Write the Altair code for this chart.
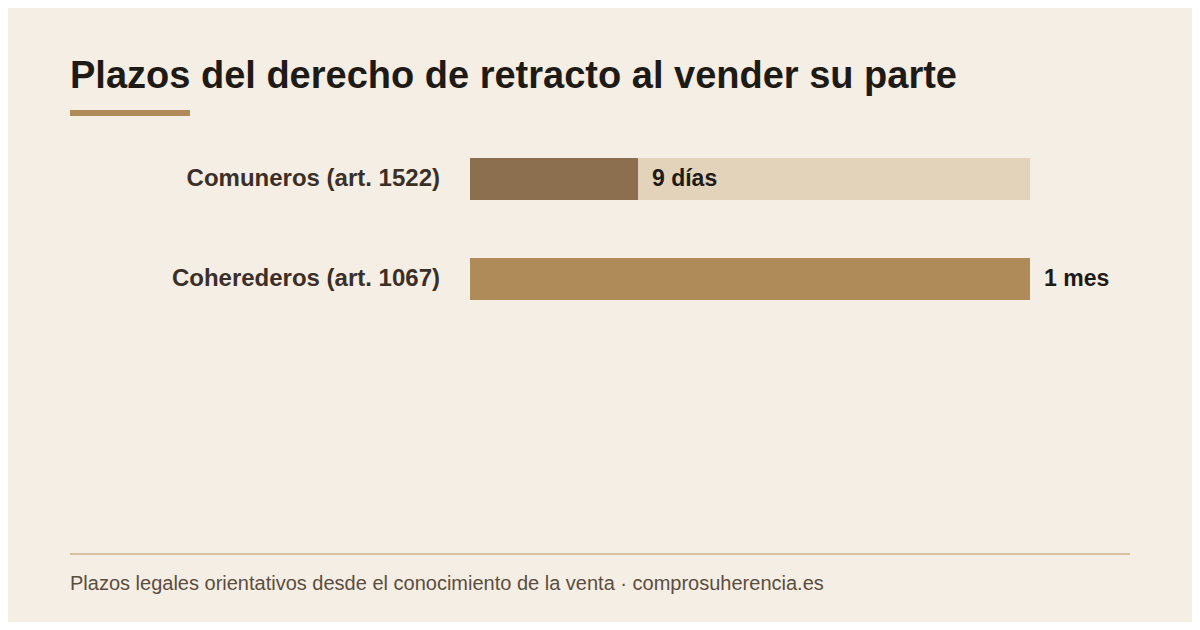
import altair as alt
import pandas as pd

categories = ["Comuneros (art. 1522)", "Coherederos (art. 1067)"]
days = [9, 30]
value_labels = ["9 días", "1 mes"]
track_max = [30, 30]
bar_colors = ["#8b6f4e", "#b08b5a"]

title_text = "Plazos del derecho de retracto al vender su parte"
footer_text = "Plazos legales orientativos desde el conocimiento de la venta · comprosuherencia.es"

BG = "#f5eee4"

df = pd.DataFrame({"cat": categories, "days": days, "label": value_labels, "track": track_max})

x_scale = alt.Scale(domain=[0, 30], range=[462, 1022])
y_scale = alt.Scale(domain=categories, range=[121, 321], paddingInner=0.58, paddingOuter=0.29)
y_enc = alt.Y("cat:N", scale=y_scale, axis=None, sort=categories)

base = alt.Chart(df)

track = base.mark_bar(color="#e3d3bb").encode(
    x=alt.X("track:Q", scale=x_scale, axis=None), y=y_enc
)
bars = base.mark_bar().encode(
    x=alt.X("days:Q", scale=x_scale, axis=None),
    y=y_enc,
    color=alt.Color("cat:N", scale=alt.Scale(domain=categories, range=bar_colors), legend=None),
)
vals = base.mark_text(align="left", baseline="middle", dx=14, font="Liberation Sans",
                      fontWeight="bold", fontSize=23, color="#1e1a16").encode(
    x=alt.X("days:Q", scale=x_scale, axis=None), y=y_enc, text="label:N"
)
cats = base.mark_text(align="right", baseline="middle", font="Liberation Sans",
                      fontWeight="bold", fontSize=24, color="#3b2f27").encode(
    x=alt.value(432), y=y_enc, text="cat:N"
)

deco = alt.Chart(pd.DataFrame({"t": [title_text], "f": [footer_text]}))
title = deco.mark_text(align="left", baseline="alphabetic", font="Liberation Sans",
                       fontWeight="bold", fontSize=38, color="#1e1a16").encode(
    x=alt.value(62), y=alt.value(80), text="t:N"
)
accent = deco.mark_rect(color="#b08b5a").encode(
    x=alt.value(62), x2=alt.value(182), y=alt.value(102), y2=alt.value(108)
)
rule = deco.mark_rule(color="#d8c0a3", strokeWidth=2).encode(
    x=alt.value(62), x2=alt.value(1122), y=alt.value(546)
)
footer = deco.mark_text(align="left", baseline="alphabetic", font="Liberation Sans",
                        fontSize=20, color="#5b4d40").encode(
    x=alt.value(62), y=alt.value(582), text="f:N"
)

chart = alt.layer(track, bars, vals, cats, title, accent, rule, footer).properties(
    width=1184, height=614, background=BG, padding=0,
    autosize=alt.AutoSizeParams(type="none"),
).configure_view(stroke=None)

chart.save("out.html", embed_options={"renderer": "svg", "actions": False})
